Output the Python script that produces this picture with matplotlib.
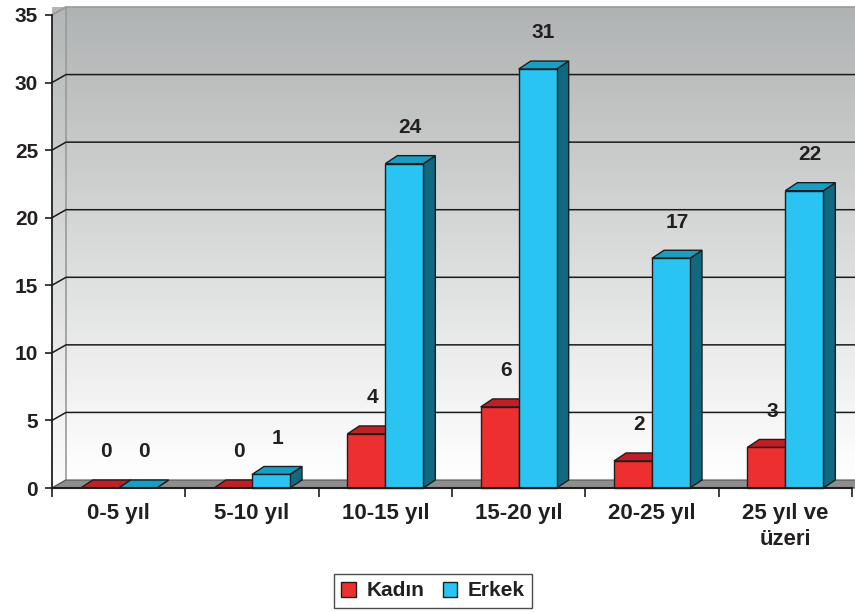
import numpy as np
import matplotlib.pyplot as plt
from matplotlib.patches import Polygon, Patch
from matplotlib.colors import LinearSegmentedColormap

categories = ['0-5 yıl', '5-10 yıl', '10-15 yıl', '15-20 yıl', '20-25 yıl', '25 yıl ve\nüzeri']
kadin = [0, 0, 4, 6, 2, 3]
erkek = [0, 1, 24, 31, 17, 22]
series_names = ['Kadın', 'Erkek']
y_ticks = [0, 5, 10, 15, 20, 25, 30, 35]

plt.rcParams['font.family'] = ['Liberation Sans', 'DejaVu Sans']
plt.rcParams['font.weight'] = 'bold'
txt = '#231f20'
fs = 15

fig = plt.figure(figsize=(8.55, 6.12), dpi=100)
ax = fig.add_axes([52 / 855, 124 / 612, 800 / 855, 473 / 612])
ax.set_xlim(0, len(categories))
ax.set_ylim(0, 35)

# pixel -> data unit helpers (for the fake 3d depth)
px_x = len(categories) / 800
px_y = 35 / 473
wdx, wdy = 14 * px_x, 8 * px_y   # wall depth
bdx, bdy = 12 * px_x, 8 * px_y   # bar depth

# background gradient (grey on top, white at bottom)
cmap = LinearSegmentedColormap.from_list('wall', [(0, '#ffffff'), (0.12, '#f7f7f7'), (1, '#b0b3b3')])
grad = np.linspace(0, 1, 256).reshape(-1, 1)
n = len(categories)
ax.imshow(grad, cmap=cmap, aspect='auto', origin='lower',
          extent=[wdx, n + wdx + 0.2, wdy, 35 + wdy], clip_on=False, zorder=0)
side = Polygon([(0, 0), (wdx, wdy), (wdx, 35 + wdy), (0, 35)], closed=True,
               facecolor='none', edgecolor='#9a9a9a', lw=1.2, clip_on=False, zorder=1)
ax.add_patch(side)
im2 = ax.imshow(grad, cmap=cmap, aspect='auto', origin='lower', vmin=-0.05, vmax=1.05,
                extent=[0, wdx, 0, 35 + wdy], clip_on=False, zorder=0.5)
im2.set_clip_path(side)
ax.plot([0, wdx, n + wdx + 0.2], [35, 35 + wdy, 35 + wdy], color='#9a9a9a', lw=1.2,
        clip_on=False, zorder=1)

# gridlines
for v in y_ticks[1:-1]:
    ax.plot([0, wdx, n + wdx + 0.2], [v, v + wdy, v + wdy], color='#1a1a1a', lw=1.1,
            clip_on=False, zorder=1)

# floor
ax.add_patch(Polygon([(0, 0), (n + 0.2, 0), (n + 0.2 + wdx, wdy), (wdx, wdy)], closed=True,
                     facecolor='#8e8e8e', edgecolor='#555555', lw=0.8, clip_on=False, zorder=1))

colors = [('#ee2f2f', '#c01f26', '#9a161b'), ('#29c4f2', '#1a9dc3', '#11697f')]
width = 0.285
for i in range(n):
    for s, vals in enumerate([kadin, erkek]):
        v = vals[i]
        x0 = i + 0.5 - width + s * width
        x1 = x0 + width
        front, top, sidec = colors[s]
        kw = dict(closed=True, edgecolor='#1e1e1e', lw=1.0, clip_on=False, zorder=3)
        ax.add_patch(Polygon([(x1, 0), (x1 + bdx, bdy), (x1 + bdx, v + bdy), (x1, v)],
                             facecolor=sidec, **kw))
        ax.add_patch(Polygon([(x0, v), (x1, v), (x1 + bdx, v + bdy), (x0 + bdx, v + bdy)],
                             facecolor=top, **kw))
        if v > 0:
            ax.add_patch(Polygon([(x0, 0), (x1, 0), (x1, v), (x0, v)], facecolor=front, **kw))
        ax.annotate(str(v), (x0 + width / 2 + bdx / 2, v), xytext=(0, 26),
                    textcoords='offset points', ha='center', va='center',
                    fontsize=fs, fontweight='bold', color=txt, zorder=5)

# axes styling
for sp in ['top', 'right']:
    ax.spines[sp].set_visible(False)
ax.spines['left'].set_color('#1e1e1e')
ax.spines['bottom'].set_color('#1e1e1e')
ax.spines['left'].set_linewidth(1.2)
ax.spines['bottom'].set_linewidth(1.5)
ax.spines['left'].set_zorder(4)
ax.spines['bottom'].set_zorder(4)

ax.set_yticks(y_ticks)
ax.set_yticklabels([str(t) for t in y_ticks], fontsize=fs, fontweight='bold', color=txt)
ax.tick_params(axis='y', length=5, width=1.2, pad=5, color='#1e1e1e')

ax.set_xticks(np.arange(n + 1))
ax.set_xticklabels([])
ax.tick_params(axis='x', which='major', length=6.5, width=1.2, color='#1e1e1e')
ax.set_xticks(np.arange(n) + 0.5, minor=True)
ax.set_xticklabels(categories, minor=True, fontsize=16, fontweight='bold', color=txt,
                   linespacing=1.3, va='top')
ax.tick_params(axis='x', which='minor', length=0, pad=11)

handles = [Patch(facecolor=colors[0][0], edgecolor='#1e1e1e', lw=1.0),
           Patch(facecolor=colors[1][0], edgecolor='#1e1e1e', lw=1.0)]
leg = fig.legend(handles, series_names, loc='center', bbox_to_anchor=(433 / 855, 1 - 591 / 612),
                 ncol=2, prop={'weight': 'bold', 'size': 15}, frameon=True,
                 fancybox=False, handlelength=0.7, handleheight=0.7, handletextpad=0.5,
                 columnspacing=0.9, borderpad=0.35, borderaxespad=0)
leg.get_frame().set_edgecolor('#1e1e1e')
leg.get_frame().set_linewidth(1.0)
for t in leg.get_texts():
    t.set_color(txt)

fig.savefig('out.png', dpi=100)
